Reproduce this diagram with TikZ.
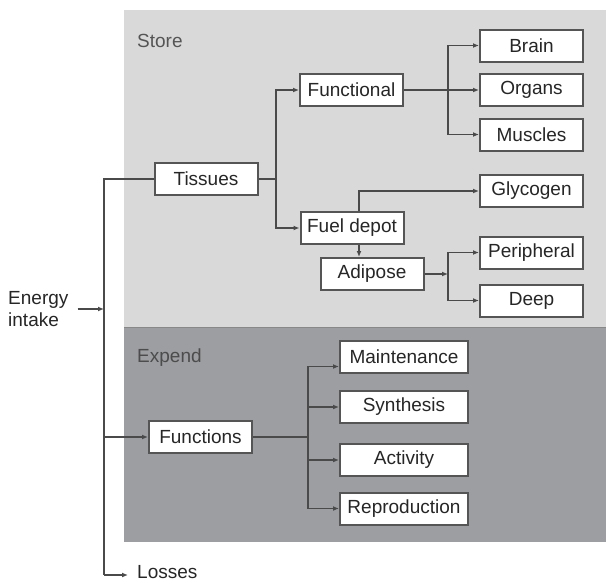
\documentclass[tikz,border=0pt]{standalone}
\usepackage{fontspec}
\setmainfont{Liberation Sans}
\usepackage{xcolor}
\usepackage{tikz}
\usetikzlibrary{positioning,calc,arrows.meta}

\definecolor{storebg}{HTML}{D9D9D9}
\definecolor{expendbg}{HTML}{9D9EA2}
\definecolor{linegray}{HTML}{4A4A4A}
\definecolor{boxgray}{HTML}{555555}

\tikzset{
    box/.style={draw=boxgray, line width=2pt, fill=white, minimum width=103pt, minimum height=32pt, inner sep=0pt, font=\fontsize{19}{22}\selectfont, text=black!85},
    widebox/.style={box, minimum width=128pt},
    lbl/.style={inner sep=1pt, font=\fontsize{19}{22}\selectfont, text=black!85},
    link/.style={draw=linegray, line width=1.6pt},
    arr/.style={link, -{Latex[length=6pt,width=5pt]}}
}

\begin{document}
\begin{tikzpicture}[x=1pt, y=-1pt]
    \useasboundingbox (0,0) rectangle (606,581);

    % Store and Expend areas
    \fill [storebg] (124,10) rectangle (606,327);
    \fill [expendbg] (124,327) rectangle (606,542);
    \draw [boxgray!70, line width=1pt] (124,327) -- (606,327);
    \node [lbl, anchor=west, text=boxgray] (store) at (136,41) {Store};
    \node [lbl, anchor=west, text=black!70] (expend) at (136,358) {Expend};

    % Store boxes
    \node [box] (tissues) at (206,179) {Tissues};
    \node [box] (functional) at (351.5,90) {Functional};
    \node [box] (fuel) at (352,228) {Fuel depot};
    \node [box] (adipose) at (372,274) {Adipose};
    \node [box] (brain) at (531.5,45.5) {Brain};
    \node [box] (organs) at (531.5,90) {Organs};
    \node [box] (muscles) at (531.5,134.5) {Muscles};
    \node [box] (glycogen) at (531.5,191) {Glycogen};
    \node [box] (peripheral) at (531.5,252.5) {Peripheral};
    \node [box] (deep) at (531.5,300.5) {Deep};

    % Expend boxes
    \node [box] (functions) at (200.5,437) {Functions};
    \node [widebox] (maint) at (404,356.5) {Maintenance};
    \node [widebox] (synth) at (404,407) {Synthesis};
    \node [widebox] (activity) at (404,460) {Activity};
    \node [widebox] (repro) at (404,508.5) {Reproduction};

    % Intake and losses
    \node [lbl, anchor=west, align=left] (energy) at (7,309) {Energy\\intake};
    \node [lbl, anchor=west] (losses) at (136,572) {Losses};
    \coordinate (trunktop) at (104,179);
    \coordinate (trunkbot) at (104,575);
    \draw [link] (tissues.west) -- (trunktop) -- (trunkbot);
    \draw [arr, shorten >=8pt] (trunkbot) -- (trunkbot -| losses.west);
    \draw [arr] ([xshift=8pt]energy.east) -- (energy -| trunktop);
    \draw [arr] (functions.west -| trunktop) -- (functions.west);

    % Tissues branch
    \coordinate (tj) at (276,179);
    \draw [link] (tissues.east) -- (tj);
    \draw [arr] (tj) |- (functional.west);
    \draw [arr] (tj) |- (fuel.west);

    % Functional branch
    \coordinate (fj) at (448,90);
    \draw [arr] (functional.east) -- (organs.west);
    \draw [arr] (fj) |- (brain.west);
    \draw [arr] (fj) |- (muscles.west);

    % Fuel depot
    \draw [arr] ([xshift=7pt]fuel.north) |- (glycogen.west);
    \draw [arr] ([xshift=7pt]fuel.south) -- ([xshift=7pt]fuel.south |- adipose.north);
    \coordinate (aj) at (448,274);
    \draw [arr] (adipose.east) -- (aj);
    \draw [arr] (aj) |- (peripheral.west);
    \draw [arr] (aj) |- (deep.west);

    % Functions branch
    \coordinate (xj) at (308,437);
    \draw [link] (functions.east) -- (xj);
    \draw [arr] (xj) |- ([yshift=-10pt]maint.west);
    \draw [arr] (xj) |- (synth.west);
    \draw [arr] (xj) |- (activity.west);
    \draw [arr] (xj) |- (repro.west);
\end{tikzpicture}
\end{document}
